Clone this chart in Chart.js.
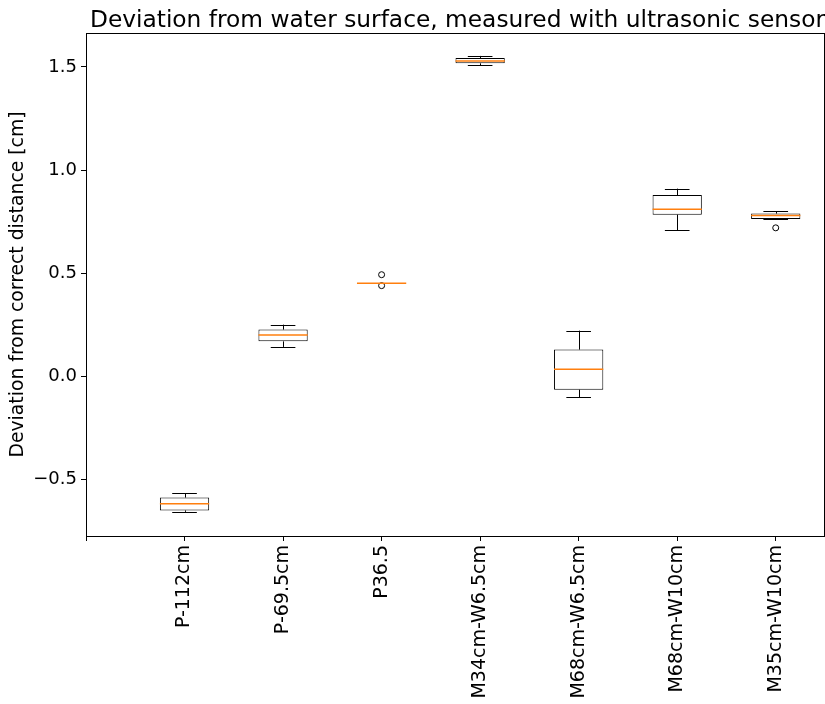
<!DOCTYPE html>
<html>
<head>
<meta charset="utf-8">
<script src="https://cdn.jsdelivr.net/npm/chart.js@4"></script>
<style>
  html, body { margin: 0; padding: 0; background: #fff; }
  #wrap { width: 825px; height: 704px; }
</style>
</head>
<body>
<div id="wrap"><canvas id="c" width="825" height="704"></canvas></div>
<script>
// Box plot of ultrasonic sensor deviations per measurement setup
const categories = ['P-112cm', 'P-69.5cm', 'P36.5', 'M34cm-W6.5cm', 'M68cm-W6.5cm', 'M68cm-W10cm', 'M35cm-W10cm'];
const positions = [1, 2, 3, 4, 5, 6, 7];
const whiskerLow  = [-0.656, 0.143, 0.452, 1.507, -0.100, 0.709, 0.763];
const q1          = [-0.649, 0.170, 0.452, 1.517, -0.064, 0.784, 0.763];
const median      = [-0.617, 0.201, 0.452, 1.528,  0.035, 0.810, 0.780];
const q3          = [-0.587, 0.227, 0.452, 1.543,  0.130, 0.879, 0.789];
const whiskerHigh = [-0.567, 0.251, 0.452, 1.553,  0.222, 0.910, 0.800];
const outlierPos  = [3, 3, 7];
const outlierVal  = [0.493, 0.440, 0.720];
const yTickValues = [-0.5, 0.0, 0.5, 1.0, 1.5];
const xTickValues = [0, 1, 2, 3, 4, 5, 6, 7];
const xTickLabels = [''].concat(categories);

const FONT = 'DejaVu Sans';
const MEDIAN_COLOR = '#ff7f0e';

// whiskers, caps, medians and the full frame around the plot area
const boxExtras = {
  id: 'boxExtras',
  afterDatasetsDraw(chart) {
    const ctx = chart.ctx;
    const xs = chart.scales.x, ys = chart.scales.y;
    ctx.save();
    positions.forEach((p, i) => {
      const cx = Math.round(xs.getPixelForValue(p)) + 0.5;
      const capL = xs.getPixelForValue(p - 0.125), capR = xs.getPixelForValue(p + 0.125);
      const boxL = xs.getPixelForValue(p - 0.25), boxR = xs.getPixelForValue(p + 0.25);
      ctx.strokeStyle = '#000';
      ctx.lineWidth = 1;
      ctx.beginPath();
      // upper whisker + cap
      ctx.moveTo(cx, ys.getPixelForValue(q3[i]));
      ctx.lineTo(cx, ys.getPixelForValue(whiskerHigh[i]));
      ctx.moveTo(capL, Math.round(ys.getPixelForValue(whiskerHigh[i])) + 0.5);
      ctx.lineTo(capR, Math.round(ys.getPixelForValue(whiskerHigh[i])) + 0.5);
      // lower whisker + cap
      ctx.moveTo(cx, ys.getPixelForValue(q1[i]));
      ctx.lineTo(cx, ys.getPixelForValue(whiskerLow[i]));
      ctx.moveTo(capL, Math.round(ys.getPixelForValue(whiskerLow[i])) + 0.5);
      ctx.lineTo(capR, Math.round(ys.getPixelForValue(whiskerLow[i])) + 0.5);
      ctx.stroke();
      // median
      ctx.strokeStyle = MEDIAN_COLOR;
      ctx.lineWidth = 1.5;
      ctx.beginPath();
      const my = ys.getPixelForValue(median[i]);
      ctx.moveTo(boxL, my);
      ctx.lineTo(boxR, my);
      ctx.stroke();
    });
    const a = chart.chartArea;
    ctx.strokeStyle = '#000';
    ctx.lineWidth = 1;
    ctx.strokeRect(Math.round(a.left) + 0.5, Math.round(a.top) + 0.5,
                   Math.round(a.right - a.left) - 1, Math.round(a.bottom - a.top));
    ctx.restore();
  }
};

new Chart(document.getElementById('c'), {
  type: 'bar',
  data: {
    datasets: [
      {
        type: 'bar',
        data: positions.map((p, i) => ({ x: p, y: [q1[i], q3[i]] })),
        backgroundColor: '#ffffff',
        borderColor: '#000000',
        borderWidth: 1,
        borderSkipped: false,
        categoryPercentage: 1.0,
        barPercentage: 0.5,
        order: 2
      },
      {
        type: 'scatter',
        data: outlierPos.map((p, i) => ({ x: p, y: outlierVal[i] })),
        pointStyle: 'circle',
        pointRadius: 3,
        borderColor: '#000000',
        backgroundColor: 'rgba(0,0,0,0)',
        borderWidth: 1,
        order: 1
      }
    ]
  },
  options: {
    responsive: false,
    animation: false,
    events: [],
    layout: { autoPadding: false, padding: { left: 0, right: 0, top: 0, bottom: 0 } },
    plugins: {
      legend: { display: false },
      tooltip: { enabled: false },
      title: {
        display: true,
        align: 'end',
        text: 'Deviation from water surface, measured with ultrasonic sensor',
        color: '#000',
        font: { family: FONT, size: 23.3, weight: 'normal', lineHeight: 1.0 },
        padding: { top: 9, bottom: 0.7 }
      }
    },
    scales: {
      x: {
        type: 'linear',
        min: 0,
        max: 7.5,
        offset: false,
        afterBuildTicks: (s) => { s.ticks = xTickValues.map(v => ({ value: v })); },
        afterFit: (s) => { s.height = 168; s.paddingLeft = 0; s.paddingRight = 0; },
        border: { display: true, color: '#000', width: 1 },
        grid: { display: true, offset: false, drawOnChartArea: false, drawTicks: true, tickLength: 5, tickColor: '#000' },
        ticks: {
          autoSkip: false,
          minRotation: 90,
          maxRotation: 90,
          padding: 4,
          color: '#000',
          font: { family: FONT, size: 19 },
          callback: (v) => xTickLabels[Math.round(v)] ?? ''
        }
      },
      y: {
        type: 'linear',
        min: -0.773,
        max: 1.664,
        afterBuildTicks: (s) => { s.ticks = yTickValues.map(v => ({ value: v })); },
        afterFit: (s) => { s.width = 86; },
        border: { display: true, color: '#000', width: 1 },
        grid: { display: true, drawOnChartArea: false, drawTicks: true, tickLength: 5, tickColor: '#000' },
        title: {
          display: true,
          text: 'Deviation from correct distance [cm]',
          color: '#000',
          font: { family: FONT, size: 18.8 },
          padding: { top: 7, bottom: 0 }
        },
        ticks: {
          padding: 4,
          color: '#000',
          font: { family: FONT, size: 18 },
          callback: (v) => (v < 0 ? '\u2212' : '') + Math.abs(v).toFixed(1)
        }
      }
    }
  },
  plugins: [boxExtras]
});
</script>
</body>
</html>
